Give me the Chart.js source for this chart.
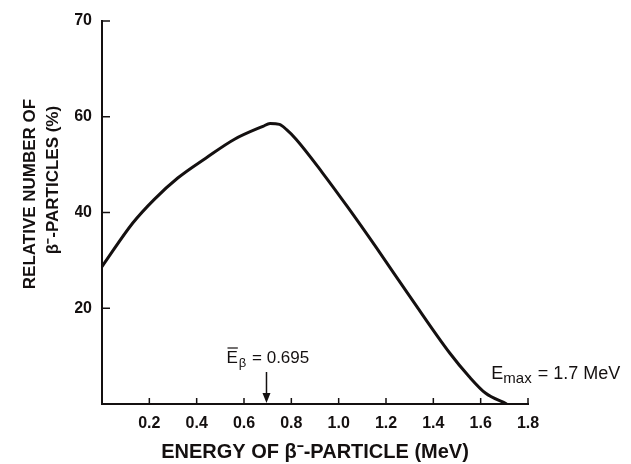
<!DOCTYPE html>
<html>
<head>
<meta charset="utf-8">
<script src="https://cdn.jsdelivr.net/npm/chart.js@4"></script>
<style>
  body { margin: 0; background: #fff; }
  #wrap { width: 631px; height: 464px; }
</style>
</head>
<body>
<div id="wrap"><canvas id="betaSpectrum" width="631" height="464"></canvas></div>
<script>
// ─── DATA ───
const energy   = [0, 0.13, 0.22, 0.32, 0.44, 0.56, 0.68, 0.71, 0.75, 0.78, 0.82, 0.93, 1.04, 1.16, 1.31, 1.47, 1.55, 1.62, 1.71];
const relative = [28.7, 37.8, 42.7, 47.2, 51.4, 55.3, 58.0, 58.6, 58.4, 57.3, 55.3, 48.4, 41.0, 32.6, 21.8, 10.6, 5.8, 2.3, 0];
const xTickLabels = ['', '0.2', '0.4', '0.6', '0.8', '1.0', '1.2', '1.4', '1.6', '1.8'];
const yTickLabels = ['', '20', '40', '60', '70'];
const meanEnergy = 0.695;
const maxEnergy = 1.7;

const ink = '#141010';
const FONT = '"Liberation Sans", Arial, sans-serif';

// ─── PLUGIN: inward ticks, y title, annotations ───
const annotate = {
  id: 'annotate',
  afterDraw(chart) {
    const { ctx, chartArea: a, scales: { x, y } } = chart;
    ctx.save();
    ctx.strokeStyle = ink;
    ctx.fillStyle = ink;
    ctx.lineWidth = 1.5;

    const seg = (x1, y1, x2, y2) => {
      ctx.beginPath(); ctx.moveTo(x1, y1); ctx.lineTo(x2, y2); ctx.stroke();
    };
    y.ticks.forEach(t => {
      if (t.value === 0) return;
      const py = y.getPixelForValue(t.value);
      seg(a.left, py, a.left + 8, py);
    });
    x.ticks.forEach(t => {
      if (t.value === 0) return;
      const px = x.getPixelForValue(t.value);
      seg(px, a.bottom, px, a.bottom - 6);
    });

    // y title, two lines
    ctx.font = 'bold 17px ' + FONT;
    ctx.textAlign = 'center';
    ctx.textBaseline = 'middle';
    ctx.save(); ctx.translate(30, 194); ctx.rotate(-Math.PI / 2);
    ctx.fillText('RELATIVE NUMBER OF', 0, 0); ctx.restore();
    ctx.save(); ctx.translate(53, 180); ctx.rotate(-Math.PI / 2);
    ctx.fillText('\u03B2\u207B-PARTICLES (%)', 0, 0); ctx.restore();

    // mean energy arrow
    const mx = x.getPixelForValue(meanEnergy);
    seg(mx, a.bottom - 32, mx, a.bottom - 9);
    ctx.beginPath();
    ctx.moveTo(mx - 4, a.bottom - 11);
    ctx.lineTo(mx + 4, a.bottom - 11);
    ctx.lineTo(mx, a.bottom - 1);
    ctx.closePath(); ctx.fill();

    ctx.textAlign = 'left';
    ctx.textBaseline = 'alphabetic';
    // Ē_β = 0.695
    let lx = mx - 40, by = a.bottom - 41;
    ctx.font = '17px ' + FONT;
    ctx.fillText('E', lx, by);
    const wE = ctx.measureText('E').width;
    ctx.lineWidth = 1.2;
    seg(lx + 1, by - 15, lx + wE, by - 15);
    ctx.font = '13px ' + FONT;
    ctx.fillText('\u03B2', lx + wE + 1, by + 4);
    const wB = ctx.measureText('\u03B2').width;
    ctx.font = '17px ' + FONT;
    ctx.fillText(' = ' + meanEnergy, lx + wE + wB + 2, by);

    // E_max = 1.7 MeV
    lx = x.getPixelForValue(maxEnergy) - 13; by = a.bottom - 25;
    ctx.font = '18px ' + FONT;
    ctx.fillText('E', lx, by);
    const wE2 = ctx.measureText('E').width;
    ctx.font = '15px ' + FONT;
    ctx.fillText('max', lx + wE2, by + 4);
    const wM = ctx.measureText('max').width;
    ctx.font = '18px ' + FONT;
    ctx.fillText(' = ' + maxEnergy + ' MeV', lx + wE2 + wM + 1, by);
    ctx.restore();
  }
};

// ─── CHART ───
new Chart(document.getElementById('betaSpectrum'), {
  type: 'line',
  data: {
    datasets: [{
      data: energy.map((e, i) => ({ x: e, y: relative[i] })),
      borderColor: ink,
      borderWidth: 3,
      pointRadius: 0,
      fill: false,
      cubicInterpolationMode: 'monotone'
    }]
  },
  options: {
    responsive: false,
    animation: false,
    layout: { padding: { left: 75, top: 21, right: 103, bottom: 0 } },
    plugins: { legend: { display: false }, tooltip: { enabled: false } },
    scales: {
      x: {
        type: 'linear',
        min: 0, max: 1.8,
        grid: { display: false, drawTicks: false },
        border: { color: ink, width: 2 },
        afterFit: s => { s.height = 60; },
        ticks: {
          stepSize: 0.2, padding: 10, color: ink,
          font: { family: FONT, size: 16, weight: 'bold' },
          callback: (v, i) => xTickLabels[i]
        },
        title: {
          display: true,
          text: 'ENERGY OF \u03B2\u207B-PARTICLE (MeV)',
          color: ink,
          font: { family: FONT, size: 20, weight: 'bold' },
          padding: { top: 0, bottom: 0 }
        }
      },
      y: {
        min: 0, max: 80,
        grid: { display: false, drawTicks: false },
        border: { color: ink, width: 2 },
        afterFit: s => { s.width = 27; },
        ticks: {
          stepSize: 20, padding: 10, color: ink,
          font: { family: FONT, size: 16, weight: 'bold' },
          callback: v => yTickLabels[Math.round(v / 20)]
        }
      }
    }
  },
  plugins: [annotate]
});
</script>
</body>
</html>
